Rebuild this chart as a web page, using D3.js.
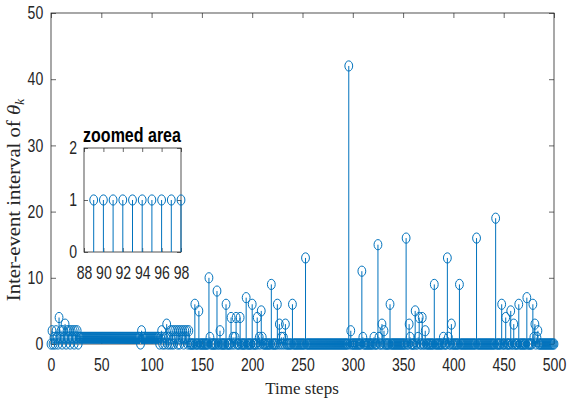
<!DOCTYPE html>
<html>
<head>
<meta charset="utf-8">
<script src="https://cdn.jsdelivr.net/npm/d3@7"></script>
<style>body{margin:0;background:#fff}</style>
</head>
<body>
<script>
// values, step by step
// steps 0..28
var earlyValues = [0,2,0,1,0,2,1,0,4,1,2,0,2,1,3,0,2,1,2,0,2,1,2,0,2,1,2,0,1];
// steps 29..139
var midValues = [
 1,1,1,1,1,1,1,1,1,1,1,1,1,1,1,1,1,1,1,1,
 1,1,1,1,1,1,1,1,1,1,1,1,1,1,1,1,1,1,1,1,
 1,1,1,1,1,1,1,1,1,1,1,1,1,1,1,1,1,1,1,1,
 0,2,
 1,1,1,1,1,1,1,1,1,1,1,1,1,1,1,
 1,1,0,1,2,0,1,0,1,3,0,1,0,2,0,2,0,2,1,2,0,2,0,2,1,2,0,2,1,2,0,2,0,0
];
// steps 140..500 are 0 except these
var eventSteps  = [143,147,157,158,165,168,174,179,181,183,184,188,194,200,205,207,209,210,219,225,227,229,231,233,240,253,
                   296,298,309,310,321,325,326,329,331,337,353,356,357,362,365,366,369,372,381,390,394,395,398,406,423,
                   442,448,452,457,460,465,473,479,480,481,483,484];
var eventValues = [6,5,10,1,8,2,6,4,1,1,4,4,7,6,4,1,5,1,9,6,3,1,1,3,6,13,
                   42,2,11,1,1,15,1,3,2,6,16,3,1,5,1,4,4,2,9,1,13,1,3,9,16,
                   19,6,4,5,3,6,7,6,1,3,1,2];
var lastStep = 500;

var xTicks = [0,50,100,150,200,250,300,350,400,450,500];
var yTicks = [0,10,20,30,40,50];

var insetSteps  = [89,90,91,92,93,94,95,96,97,98];
var insetValues = [1,1,1,1,1,1,1,1,1,1];
var insetXTicks = [88,90,92,94,96,98];
var insetYTicks = [0,1,2];

var values = earlyValues.concat(midValues);
for (var t = values.length; t <= lastStep; t++) values.push(0);
eventSteps.forEach(function(s, i){ values[s] = eventValues[i]; });
var points = values.map(function(v, t){ return {t: t, v: v}; });

var blue = "#0072BD", ink = "#262626";

var svg = d3.select("body").append("svg")
  .attr("width", 568).attr("height", 405)
  .style("font-family", "'Liberation Sans', Arial, sans-serif");

var x = d3.scaleLinear().domain([0, 500]).range([51, 554]);
var y = d3.scaleLinear().domain([0, 50]).range([344, 13]);

function styleAxis(g){
  g.select(".domain").remove();
  g.selectAll("line").attr("stroke", ink).attr("stroke-width", 0.7);
  g.selectAll("text").attr("fill", ink).style("font-size", "18px")
    .attr("transform", "scale(0.78,1)");
}
var blank = function(){ return ""; };
var intFmt = d3.format("d");

// main axes
svg.append("rect").attr("x", x(0)).attr("y", y(50))
  .attr("width", x(500) - x(0)).attr("height", y(0) - y(50))
  .attr("fill", "none").attr("stroke", ink).attr("stroke-width", 0.8);

svg.append("g").attr("transform", "translate(0," + y(0) + ")")
  .call(d3.axisBottom(x).tickValues(xTicks).tickSize(-5).tickSizeOuter(0).tickPadding(14).tickFormat(intFmt))
  .call(styleAxis);
svg.append("g").attr("transform", "translate(0," + y(50) + ")")
  .call(d3.axisTop(x).tickValues(xTicks).tickSize(-5).tickSizeOuter(0).tickFormat(blank))
  .call(styleAxis);
svg.append("g").attr("transform", "translate(" + x(0) + ",0)")
  .call(d3.axisLeft(y).tickValues(yTicks).tickSize(-5).tickSizeOuter(0).tickPadding(10).tickFormat(intFmt))
  .call(styleAxis);
svg.append("g").attr("transform", "translate(" + x(500) + ",0)")
  .call(d3.axisRight(y).tickValues(yTicks).tickSize(-5).tickSizeOuter(0).tickFormat(blank))
  .call(styleAxis);

// stems
svg.append("g").selectAll("line")
  .data(points.filter(function(d){ return d.v > 0; }))
  .join("line")
  .attr("x1", function(d){ return x(d.t); }).attr("x2", function(d){ return x(d.t); })
  .attr("y1", y(0)).attr("y2", function(d){ return y(d.v); })
  .attr("stroke", blue).attr("stroke-width", 1);

svg.append("g").selectAll("ellipse")
  .data(points)
  .join("ellipse")
  .attr("cx", function(d){ return x(d.t); })
  .attr("cy", function(d){ return y(d.v); })
  .attr("rx", 3.9).attr("ry", 5.1)
  .attr("fill", "none").attr("stroke", blue).attr("stroke-width", 1);

// axis titles
svg.append("text")
  .attr("transform", "translate(302,394)")
  .attr("text-anchor", "middle")
  .style("font-family", "'Liberation Serif', 'Times New Roman', serif")
  .style("font-size", "17px").attr("fill", ink)
  .text("Time steps");

var yl = svg.append("text")
  .attr("transform", "translate(20,200) rotate(-90) scale(1.15,1)")
  .attr("text-anchor", "middle")
  .style("font-family", "'Liberation Serif', 'Times New Roman', serif")
  .style("font-size", "18px").attr("fill", ink);
yl.append("tspan").text("Inter-event interval of ");
yl.append("tspan").style("font-style", "italic").text("θ");
yl.append("tspan").style("font-style", "italic").style("font-size", "12px")
  .attr("dy", 4).text("k");

// inset
var ix = d3.scaleLinear().domain([88, 98]).range([84, 181]);
var iy = d3.scaleLinear().domain([0, 2]).range([252, 148]);
var inset = svg.append("g");

inset.append("rect").attr("x", ix(88)).attr("y", iy(2))
  .attr("width", ix(98) - ix(88)).attr("height", iy(0) - iy(2))
  .attr("fill", "#fff").attr("stroke", ink).attr("stroke-width", 0.8);

inset.append("g").attr("transform", "translate(0," + iy(0) + ")")
  .call(d3.axisBottom(ix).tickValues(insetXTicks).tickSize(-4).tickSizeOuter(0).tickPadding(14).tickFormat(intFmt))
  .call(styleAxis);
inset.append("g").attr("transform", "translate(0," + iy(2) + ")")
  .call(d3.axisTop(ix).tickValues(insetXTicks).tickSize(-4).tickSizeOuter(0).tickFormat(blank))
  .call(styleAxis);
inset.append("g").attr("transform", "translate(" + ix(88) + ",0)")
  .call(d3.axisLeft(iy).tickValues(insetYTicks).tickSize(-4).tickSizeOuter(0).tickPadding(9).tickFormat(intFmt))
  .call(styleAxis);
inset.append("g").attr("transform", "translate(" + ix(98) + ",0)")
  .call(d3.axisRight(iy).tickValues(insetYTicks).tickSize(-4).tickSizeOuter(0).tickFormat(blank))
  .call(styleAxis);

var insetPts = insetSteps.map(function(s, i){ return {t: s, v: insetValues[i]}; });
inset.append("g").selectAll("line").data(insetPts).join("line")
  .attr("x1", function(d){ return ix(d.t); }).attr("x2", function(d){ return ix(d.t); })
  .attr("y1", iy(0)).attr("y2", function(d){ return iy(d.v); })
  .attr("stroke", blue).attr("stroke-width", 1);
inset.append("g").selectAll("ellipse").data(insetPts).join("ellipse")
  .attr("cx", function(d){ return ix(d.t); }).attr("cy", function(d){ return iy(d.v); })
  .attr("rx", 3.9).attr("ry", 5.1)
  .attr("fill", "none").attr("stroke", blue).attr("stroke-width", 1);

inset.append("text")
  .attr("transform", "translate(132,142) scale(0.8,1)")
  .attr("text-anchor", "middle")
  .style("font-size", "20px").style("font-weight", "bold").attr("fill", "#000")
  .text("zoomed area");
</script>
</body>
</html>
